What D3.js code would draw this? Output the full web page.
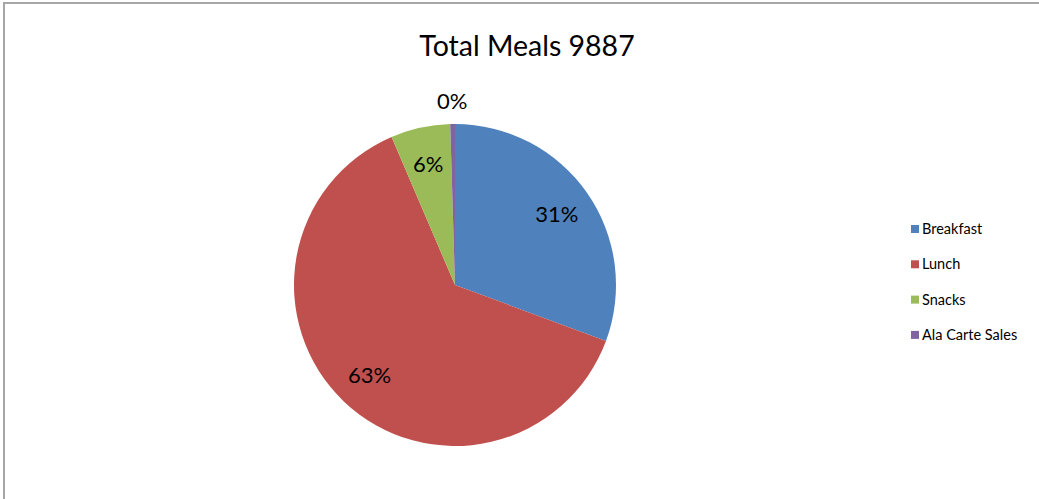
<!DOCTYPE html>
<meta charset="utf-8">
<style>
body { margin: 0; background: #fff; }
text { font-family: Lato, "Open Sans", sans-serif; fill: #000; }
.frame { fill: none; stroke: #a6a6a6; stroke-width: 2; }
</style>
<svg width="1039" height="499"></svg>
<script src="https://d3js.org/d3.v7.min.js"></script>
<script>

var categories = ["Breakfast", "Lunch", "Snacks", "Ala Carte Sales"];
var meals = [3030, 6220, 590, 47];
var colours = ["#4f81bd", "#c0504d", "#9bbb59", "#8064a2"];
var title = "Total Meals 9887";

var svg = d3.select("svg"),
    width = +svg.attr("width"),
    height = +svg.attr("height");

svg.append("rect")
    .attr("class", "frame")
    .attr("x", 4)
    .attr("y", 3)
    .attr("width", width + 10)
    .attr("height", height + 10);

svg.append("text")
    .attr("x", 527)
    .attr("y", 56)
    .attr("text-anchor", "middle")
    .attr("font-size", 28.5)
    .text(title);

var radius = 161;
var total = d3.sum(meals);

var pie = d3.pie().sort(null).value(function(d) { return d; });
var arcs = pie(meals);

var arc = d3.arc().innerRadius(0).outerRadius(radius);
var labelArc = d3.arc().innerRadius(radius * 0.77).outerRadius(radius * 0.77);
var outsideArc = d3.arc().innerRadius(radius * 1.14).outerRadius(radius * 1.14);

var g = svg.append("g").attr("transform", "translate(455,285)");

g.selectAll("path")
  .data(arcs)
  .enter().append("path")
    .attr("fill", function(d, i) { return colours[i]; })
    .attr("d", arc);

g.selectAll(".lbl")
  .data(arcs)
  .enter().append("text")
    .attr("class", "lbl")
    .attr("transform", function(d) {
      var small = (d.value / total) < 0.02;
      var c = small ? outsideArc.centroid(d) : labelArc.centroid(d);
      return "translate(" + c + ")";
    })
    .attr("dy", "0.35em")
    .attr("text-anchor", "middle")
    .attr("font-size", 22)
    .text(function(d) { return Math.round(d.value / total * 100) + "%"; });

var legend = svg.append("g").attr("transform", "translate(911,229)");

var item = legend.selectAll("g")
  .data(categories)
  .enter().append("g")
    .attr("transform", function(d, i) { return "translate(0," + (i * 35.3) + ")"; });

item.append("rect")
    .attr("x", 0)
    .attr("y", -4)
    .attr("width", 8)
    .attr("height", 8)
    .attr("fill", function(d, i) { return colours[i]; });

item.append("text")
    .attr("x", 11)
    .attr("dy", "0.35em")
    .attr("font-size", 14.5)
    .text(function(d) { return d; });

</script>
